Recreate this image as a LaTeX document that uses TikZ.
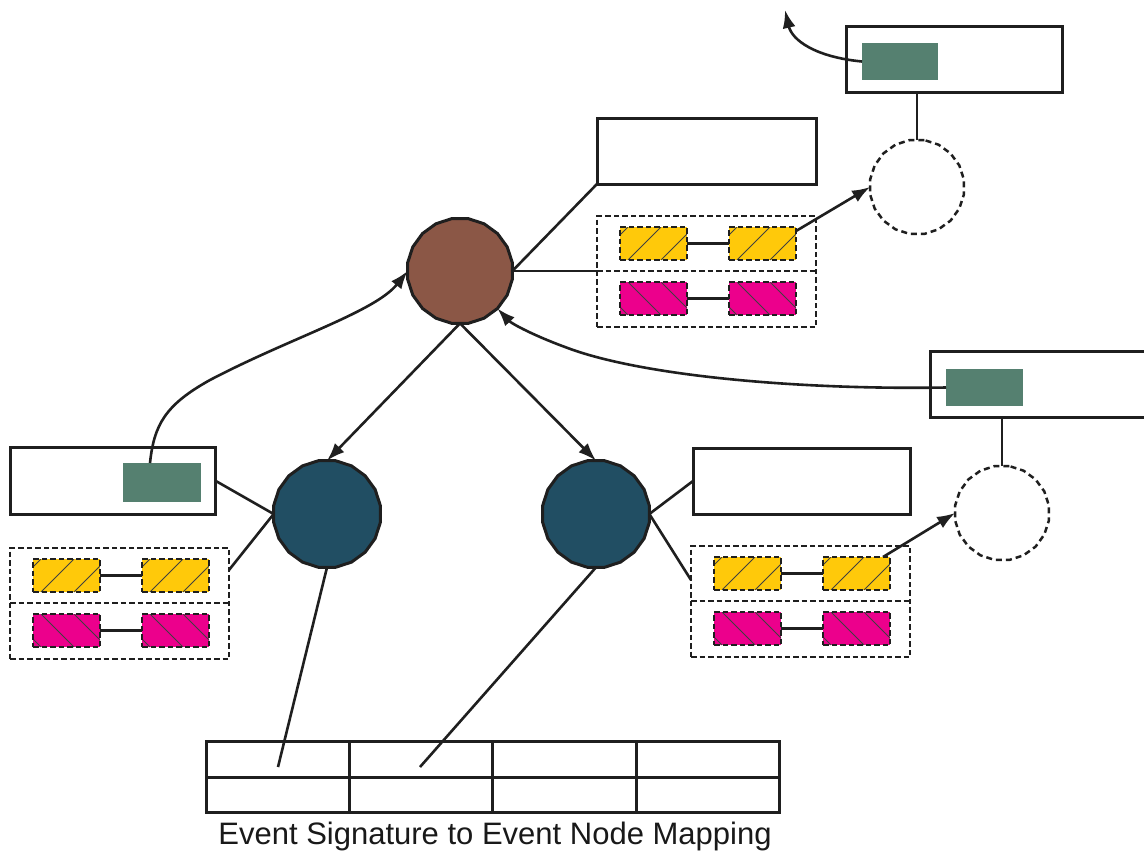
\documentclass[tikz,border=0pt]{standalone}
\usepackage{fontspec}
\setmainfont{Liberation Sans}
\usetikzlibrary{shapes.geometric,arrows.meta}

\definecolor{nodebrown}{RGB}{139,87,70}
\definecolor{nodeteal}{RGB}{33,78,99}
\definecolor{tagreen}{RGB}{85,128,112}
\definecolor{slotyellow}{RGB}{255,201,10}
\definecolor{slotpink}{RGB}{236,0,140}

\tikzset{
  outline/.style={draw=black!88, line width=3pt},
  wire/.style={draw=black!88, line width=2.6pt},
  arrowwire/.style={wire, -{Latex[length=18pt,width=13pt]}},
  infobox/.style={outline, fill=white, rectangle, inner sep=0pt, outer sep=0pt},
  tagbox/.style={fill=tagreen, rectangle, inner sep=0pt, outer sep=0pt},
  evnode/.style={outline, regular polygon, regular polygon sides=20, inner sep=0pt, outer sep=0pt, minimum size=#1},
  ghostnode/.style={draw=black!88, line width=2.5pt, dash pattern=on 6pt off 4pt, regular polygon, regular polygon sides=20, inner sep=0pt, outer sep=0pt, minimum size=#1},
  dashline/.style={draw=black!88, line width=2.3pt, dash pattern=on 5.5pt off 3pt},
  groupbox/.style={dashline, rectangle, inner sep=0pt, outer sep=0pt, minimum width=219pt, minimum height=111pt},
  slotbox/.style={dashline, rectangle, inner sep=0pt, outer sep=0pt, minimum width=67pt, minimum height=33pt, anchor=north west},
  hatch/.style={draw=black!75, line width=0.9pt},
}

% one slot: name, fill colour, left x, top y, hatch direction (+1 = /, -1 = \)
\newcommand\slotcell[5]{%
  \fill[#2] (#3,#4) rectangle ++(67,33);
  \begin{scope}
    \clip (#3,#4) rectangle ++(67,33);
    \foreach \k in {-1,0,1,2} {
      \ifnum#5>0
        \draw[hatch] ({#3+8+33*\k},{#4+33}) -- ++(33,-33);
      \else
        \draw[hatch] ({#3+8+33*\k},{#4}) -- ++(33,33);
      \fi
    }
  \end{scope}
  \node[slotbox] (#1) at (#3,#4) {};}

% a dashed group of two slot rows (yellow pair above, pink pair below)
\newcommand\slotgroup[3]{%
  \begin{scope}[shift={(#2,#3)}]
    \node[groupbox, anchor=north west] (#1) at (0,0) {};
    \coordinate (#1-dl) at (0,55);
    \coordinate (#1-dr) at (219,55);
    \draw[dashline] (#1-dl) -- (#1-dr);
    \slotcell{#1-y1}{slotyellow}{23}{11}{1}
    \slotcell{#1-y2}{slotyellow}{132}{11}{1}
    \slotcell{#1-p1}{slotpink}{23}{66}{-1}
    \slotcell{#1-p2}{slotpink}{132}{66}{-1}
    \draw[wire] (#1-y1) -- (#1-y2);
    \draw[wire] (#1-p1) -- (#1-p2);
  \end{scope}}

\begin{document}
\begin{tikzpicture}[x=1pt,y=-1pt]
\useasboundingbox[fill=white] (0,0) rectangle (1144,854);

% event nodes
\node[evnode=106pt, fill=nodebrown] (ev) at (460,271) {};
\node[evnode=108pt, fill=nodeteal] (ln) at (327,514) {};
\node[evnode=108pt, fill=nodeteal] (rn) at (596,514) {};
\node[ghostnode=95pt] (dc1) at (917,187) {};
\node[ghostnode=95pt] (dc2) at (1002,513) {};

% info boxes with their tags
\node[infobox, minimum width=216pt, minimum height=66pt] (trbox) at (954,59) {};
\node[tagbox, minimum width=76pt, minimum height=37pt] (trg) at (900,61.5) {};
\node[infobox, minimum width=219pt, minimum height=66pt] (tbox) at (706.5,151) {};
\node[infobox, minimum width=220pt, minimum height=66pt] (rbox) at (1040,384) {};
\node[tagbox, minimum width=77pt, minimum height=37pt] (rg) at (984.5,387.5) {};
\node[infobox, minimum width=205pt, minimum height=67pt] (lbox) at (112.5,480.5) {};
\node[tagbox, minimum width=78pt, minimum height=39pt] (lg) at (162,482.5) {};
\node[infobox, minimum width=217pt, minimum height=66pt] (rlbox) at (801.5,481) {};

% slot groups
\slotgroup{g1}{597}{216}
\slotgroup{g2}{10}{548}
\slotgroup{g3}{691}{546}

% mapping table
\node[infobox, minimum width=573pt, minimum height=71pt] (tbl) at (492.5,776.5) {};
\coordinate (tl-m) at (206,777);
\coordinate (tr-m) at (779,777);
\draw[outline] (tl-m) -- (tr-m);
\foreach \cx [count=\i] in {349,492,636} {
  \coordinate (tc\i-t) at (\cx,741);
  \coordinate (tc\i-b) at (\cx,812);
  \draw[outline] (tc\i-t) -- (tc\i-b);
}
\coordinate (ta) at (278,767);
\coordinate (tb) at (420,767);
\node[font=\fontsize{31}{37}\selectfont, text=black!90] (cap) at (495,836) {Event Signature to Event Node Mapping};

% connectors around the upper event node
\draw[wire] (ev.east) -- (tbox.south west);
\draw[wire] (ev.east) -- (g1-dl);
\draw[arrowwire] ([yshift=-4pt]g1-y2.north east) -- (dc1.west);
\draw[wire] (dc1.north) -- (dc1.north |- trbox.south);
\coordinate (up) at (785,10);
\draw[arrowwire] (trg.west) .. controls (815,57) and (792,40) .. (up);
\draw[arrowwire] (ev.south) -- (ln.north);
\draw[arrowwire] (ev.south) -- (rn.north);

% connectors around the lower-left event node
\draw[wire] (lbox.east) -- (ln.west);
\draw[wire] ([yshift=-22pt]g2.north east) -- (ln.west);
\draw[arrowwire] ([xshift=-12pt]lg.north) .. controls (154,425) and (165,405) .. (210,380)
  .. controls (290,338) and (375,312) .. (ev.west);
\draw[wire] (ln.south) -- (ta);

% connectors around the lower-right event node
\draw[wire] (rn.east) -- (rlbox.west);
\draw[wire] (rn.east) -- ([yshift=-34pt]g3.north west);
\draw[arrowwire] ([xshift=-7pt]g3-y2.north east) -- (dc2.west);
\draw[wire] (dc2.north) -- (dc2.north |- rbox.south);
\draw[arrowwire] (rg.west) .. controls (800,390) and (640,376) .. (565,347)
  .. controls (535,336) and (512,324) .. (ev.south east);
\draw[wire] (rn.south) -- (tb);
\end{tikzpicture}
\end{document}
